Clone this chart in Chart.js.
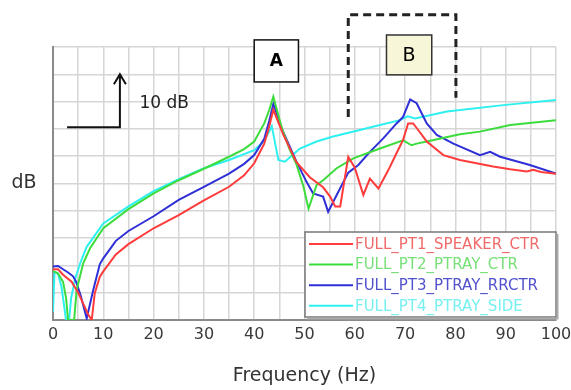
<!DOCTYPE html>
<html>
<head>
<meta charset="utf-8">
<script src="https://cdn.jsdelivr.net/npm/chart.js@4"></script>
<style>
  html, body { margin: 0; padding: 0; background: #fff; }
</style>
</head>
<body>
<canvas id="chart" width="571" height="390"></canvas>
<script>
const seriesNames = [
  "FULL_PT1_SPEAKER_CTR",
  "FULL_PT2_PTRAY_CTR",
  "FULL_PT3_PTRAY_RRCTR",
  "FULL_PT4_PTRAY_SIDE",
];

const xTicks = [0, 10, 20, 30, 40, 50, 60, 70, 80, 90, 100];

// PT1 speaker (red)
const pt1Hz = [0, 1, 2, 3.7, 5, 6, 7, 7.7, 8.3, 9.3, 10, 12.5, 15, 20, 25, 30, 35, 38, 40, 42, 43, 43.8,
  45.8, 48.4, 51.1, 53.7, 55.1, 56.1, 57.1, 58.7, 60, 61.7, 63, 64.7, 66.7, 68, 69.6, 70.6, 71.6, 72.6,
  74.3, 77.6, 80.9, 84.2, 87.5, 90.9, 94.2, 95.5, 97, 100];
const pt1Db = [9.3, 9.3, 8.3, 7.0, 5.0, 3.0, 1.0, 0, 4.9, 7.9, 8.9, 12, 13.9, 16.8, 19.2, 21.9, 24.4, 26.5, 28.7, 32.3, 35.5, 38.5,
  33.9, 28.9, 26.1, 24.3, 22.6, 20.8, 20.8, 29.9, 27.9, 22.9, 25.9, 24.1, 27.5, 30, 33, 36, 36, 34.8,
  32.7, 30.2, 29.3, 28.7, 28.1, 27.6, 27.2, 27.5, 27.1, 26.8];

// PT2 ptray ctr (green)
const pt2Hz = [0, 1, 2, 2.6, 3.0, 4.2, 4.7, 6, 7.4, 10, 15, 20, 25, 30, 35, 38, 40, 42, 43, 43.8,
  45.5, 47.1, 48.4, 49.8, 50.8, 52.4, 53.7, 56.4, 59.7, 65, 69.6, 71.3, 72.3, 74.3, 80.9, 84.9, 90.9, 100];
const pt2Db = [9.0, 8.5, 7.0, 4.0, 0, 0, 5.5, 10.4, 13.2, 16.8, 20.3, 23.2, 25.6, 27.7, 29.9, 31.3, 32.7, 36, 38.5, 40.9,
  35.1, 31.1, 28.5, 24.4, 20.4, 24.7, 25.6, 27.8, 29.6, 31.4, 32.9, 32.0, 32.3, 32.7, 34.0, 34.5, 35.7, 36.6];

// PT3 ptray rrctr (blue)
const pt3Hz = [0, 1, 2, 3, 4, 4.6, 5.5, 6.7, 8, 9.3, 10, 12.5, 15, 20, 25, 30, 35, 38, 40, 42, 43, 43.8,
  45.5, 48.4, 50.4, 51.7, 53.7, 54.7, 56.4, 58.7, 60.7, 63, 65.7, 68.3, 69.6, 71, 72.3, 74.3, 76.3,
  79.6, 84.9, 86.9, 88.9, 94.8, 100];
const pt3Db = [9.8, 9.9, 9.3, 8.7, 8.0, 7.0, 4.5, 0.3, 5.5, 10.2, 11.3, 14.5, 16.3, 19, 22, 24.4, 26.8, 28.6, 30.2, 33.2, 36.5, 39.6,
  35, 29, 25.3, 23.2, 22.6, 19.8, 22.9, 27, 28.4, 30.8, 33.3, 36.0, 37.2, 40.4, 39.7, 36, 33.9,
  32.3, 30.2, 30.8, 29.9, 28.4, 26.8];

// PT4 ptray side (cyan)
const pt4Hz = [0, 0.3, 1, 1.7, 2.3, 2.6, 3.2, 3.6, 4.4, 5.4, 6.7, 10, 15, 20, 25, 30, 35, 40, 42, 43.5,
  44.8, 46.1, 49.1, 52.4, 55.7, 61, 65, 69, 70.5, 72, 78.3, 90, 100];
const pt4Db = [1.5, 8.8, 8.5, 6, 2, 0, 0, 4, 7.5, 10.4, 13.4, 17.7, 20.8, 23.6, 25.8, 27.8, 29.3, 31.1, 32.8, 35.5,
  29.3, 29.0, 31.4, 32.7, 33.6, 34.8, 35.7, 36.6, 37.3, 36.9, 38.2, 39.4, 40.3];

const lineColors = ["#ff3b3b", "#3ddc3d", "#2f2fd8", "#2ef0f0"];
const textColors = ["#f06a6a", "#78e078", "#5252cc", "#78f0f0"];

function pts(hz, db) {
  return hz.map((f, i) => ({ x: f, y: db[i] }));
}

const FONT = "'DejaVu Sans', Verdana, sans-serif";

const annotations = {
  id: "annotations",
  afterDatasetsDraw(chart) {
    const { ctx, chartArea, scales } = chart;
    const X = v => scales.x.getPixelForValue(v);
    const Y = v => scales.y.getPixelForValue(v);
    ctx.save();

    // 10 dB scale arrow
    ctx.strokeStyle = "#111";
    ctx.lineWidth = 2;
    ctx.beginPath();
    ctx.moveTo(X(2.8), Y(35.3));
    ctx.lineTo(X(13.3), Y(35.3));
    ctx.lineTo(X(13.3), Y(45));
    ctx.moveTo(X(13.3) - 6, Y(45) + 10);
    ctx.lineTo(X(13.3), Y(45));
    ctx.lineTo(X(13.3) + 6, Y(45) + 10);
    ctx.stroke();
    ctx.fillStyle = "#222";
    ctx.font = "17px " + FONT;
    ctx.textAlign = "left";
    ctx.textBaseline = "middle";
    ctx.fillText("10 dB", X(17.2), Y(39.6));

    // box A
    ctx.fillStyle = "#fff";
    ctx.strokeStyle = "#111";
    ctx.lineWidth = 1.5;
    const ax0 = X(40), ax1 = X(48.8), ay0 = Y(51.3), ay1 = Y(43.6);
    ctx.fillRect(ax0, ay0, ax1 - ax0, ay1 - ay0);
    ctx.strokeRect(ax0, ay0, ax1 - ax0, ay1 - ay0);
    ctx.fillStyle = "#000";
    ctx.font = "bold 17px " + FONT;
    ctx.textAlign = "center";
    ctx.fillText("A", (ax0 + ax1) / 2, (ay0 + ay1) / 2 + 1);

    // dashed bracket around B
    ctx.setLineDash([8, 5]);
    ctx.lineWidth = 3;
    ctx.strokeStyle = "#222";
    ctx.beginPath();
    ctx.moveTo(X(58.7), Y(37.2));
    ctx.lineTo(X(58.7), Y(55.9));
    ctx.lineTo(X(80.1), Y(55.9));
    ctx.lineTo(X(80.1), Y(40.7));
    ctx.stroke();
    ctx.setLineDash([]);

    // box B
    const bx0 = X(66.3), bx1 = X(75.3), by0 = Y(52.2), by1 = Y(44.9);
    ctx.fillStyle = "#f8f6d8";
    ctx.fillRect(bx0, by0, bx1 - bx0, by1 - by0);
    ctx.strokeStyle = "#333";
    ctx.lineWidth = 1.5;
    ctx.strokeRect(bx0, by0, bx1 - bx0, by1 - by0);
    ctx.fillStyle = "#000";
    ctx.font = "19px " + FONT;
    ctx.fillText("B", (bx0 + bx1) / 2, (by0 + by1) / 2 + 1);

    // y label
    ctx.fillStyle = "#333";
    ctx.font = "19px " + FONT;
    ctx.fillText("dB", chartArea.left - 29, Y(25));

    // legend box
    const lx0 = chartArea.left + 252, lx1 = chartArea.right, ly0 = chartArea.bottom - 88, ly1 = chartArea.bottom - 3;
    ctx.fillStyle = "#fff";
    ctx.fillRect(lx0, ly0, lx1 - lx0, ly1 - ly0);
    ctx.strokeStyle = "#777";
    ctx.lineWidth = 1.5;
    ctx.strokeRect(lx0, ly0, lx1 - lx0, ly1 - ly0);
    ctx.strokeStyle = "#aaa";
    ctx.lineWidth = 2;
    ctx.beginPath();
    ctx.moveTo(lx0 + 2, ly1 + 1.5);
    ctx.lineTo(lx1 + 1.5, ly1 + 1.5);
    ctx.lineTo(lx1 + 1.5, ly0 + 2);
    ctx.stroke();
    ctx.font = "15px " + FONT;
    ctx.textAlign = "left";
    chart.data.datasets.forEach((ds, i) => {
      const yy = ly0 + 12 + i * 20.6;
      ctx.strokeStyle = lineColors[i];
      ctx.lineWidth = 2;
      ctx.beginPath();
      ctx.moveTo(lx0 + 4, yy);
      ctx.lineTo(lx0 + 48, yy);
      ctx.stroke();
      ctx.fillStyle = textColors[i];
      ctx.fillText(ds.label, lx0 + 50, yy + 1);
    });

    ctx.restore();
  },
};

new Chart(document.getElementById("chart"), {
  type: "line",
  data: {
    datasets: [
      { label: seriesNames[0], data: pts(pt1Hz, pt1Db), borderColor: lineColors[0] },
      { label: seriesNames[1], data: pts(pt2Hz, pt2Db), borderColor: lineColors[1] },
      { label: seriesNames[2], data: pts(pt3Hz, pt3Db), borderColor: lineColors[2] },
      { label: seriesNames[3], data: pts(pt4Hz, pt4Db), borderColor: lineColors[3] },
    ],
  },
  options: {
    responsive: false,
    animation: false,
    layout: { padding: { top: 47, right: 15, left: 0, bottom: 0 } },
    elements: {
      point: { radius: 0 },
      line: { borderWidth: 2, tension: 0 },
    },
    plugins: {
      legend: { display: false },
      tooltip: { enabled: false },
    },
    scales: {
      x: {
        type: "linear",
        min: 0,
        max: 100,
        afterFit: s => {
          s.height = 70;
          s.paddingLeft = 0;
          s.paddingRight = 0;
        },
        afterBuildTicks: s => {
          const t = [];
          for (let v = 0; v <= 100; v += 5) t.push({ value: v });
          s.ticks = t;
        },
        ticks: {
          autoSkip: false,
          maxRotation: 0,
          padding: 5,
          color: "#3a3a3a",
          font: { family: FONT, size: 16 },
          callback: v => (xTicks.includes(v) ? String(v) : ""),
        },
        grid: { color: "#d6d6d6", lineWidth: 1.5, drawTicks: false },
        border: { color: "#8a8a8a", width: 2 },
        title: {
          display: true,
          text: "Frequency (Hz)",
          color: "#333",
          font: { family: FONT, size: 19 },
          padding: { top: 0, bottom: 3 },
        },
      },
      y: {
        min: 0,
        max: 50,
        afterFit: s => { s.width = 53; },
        ticks: { display: false, stepSize: 5 },
        grid: { color: "#d6d6d6", lineWidth: 1.5, drawTicks: false },
        border: { color: "#8a8a8a", width: 2 },
      },
    },
  },
  plugins: [annotations],
});
</script>
</body>
</html>
